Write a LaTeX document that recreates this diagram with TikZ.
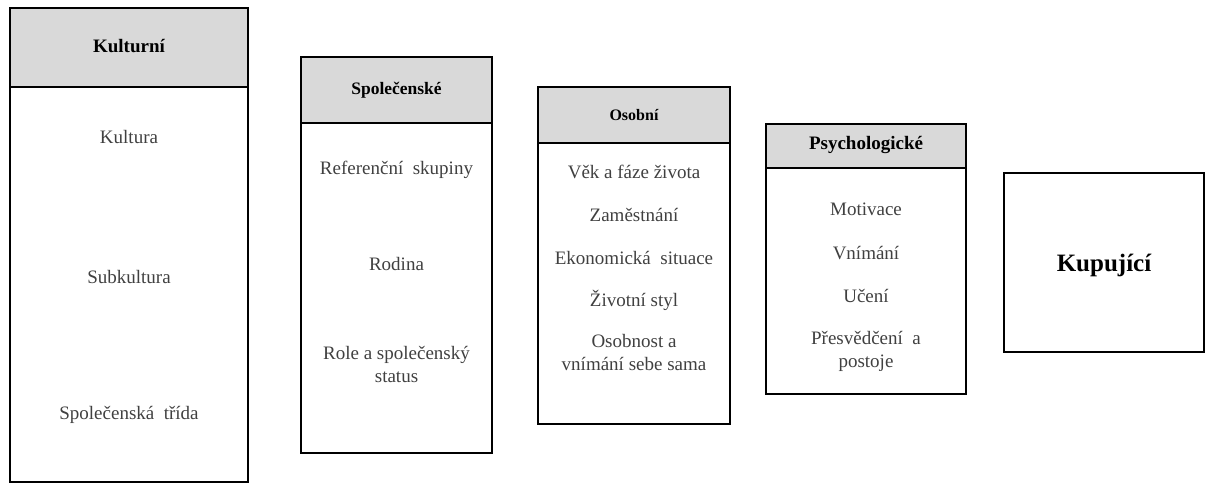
\documentclass[tikz,border=0pt]{standalone}
\usepackage{fontspec}
\setmainfont{Liberation Serif}
\definecolor{headgray}{HTML}{D9D9D9}
\definecolor{itemgray}{HTML}{404040}

\begin{document}
\begin{tikzpicture}[x=1pt, y=-1pt,
  box/.style={draw=black, line width=2.4pt},
  headbox/.style={box, fill=headgray},
  title/.style={font=\fontsize{#1}{22}\selectfont\bfseries},
  item/.style={text=itemgray, align=center, font=\fontsize{19}{23}\selectfont}]
\useasboundingbox (0,0) rectangle (1210,483);
% Kulturni
\draw[headbox] (10,8) rectangle (248,87);
\draw[box] (10,87) rectangle (248,482);
\node[title=19] (kult) at (129,46) {Kulturní};
\node[item] (kultura) at (129,137) {Kultura};
\node[item] (subkult) at (129,277) {Subkultura};
\node[item] (trida) at (129,415) {Společenská~ třída};
% Spolecenske
\draw[headbox] (301,57) rectangle (492,123);
\draw[box] (301,123) rectangle (492,453);
\node[title=17.5] (spol) at (396.5,90) {Společenské};
\node[item] (skup) at (396.5,170) {Referenční~ skupiny};
\node[item] (rodina) at (396.5,264) {Rodina};
\node[item] (role) at (396.5,364) {Role a společenský\\status};
% Osobni
\draw[headbox] (538,87) rectangle (730,143);
\draw[box] (538,143) rectangle (730,424);
\node[title=16] (osob) at (634,115) {Osobní};
\node[item] (vek) at (634,172) {Věk a fáze života};
\node[item] (zam) at (634,215) {Zaměstnání};
\node[item] (ekon) at (634,258) {Ekonomická~ situace};
\node[item] (styl) at (634,300) {Životní styl};
\node[item] (osobnost) at (634,352) {Osobnost a\\vnímání sebe sama};
% Psychologicke
\draw[headbox] (766,124) rectangle (966,168);
\draw[box] (766,168) rectangle (966,394);
\node[title=19] (psych) at (866,145) {Psychologické};
\node[item] (motiv) at (866,209) {Motivace};
\node[item] (vnim) at (866,253) {Vnímání};
\node[item] (uceni) at (866,296) {Učení};
\node[item] (presv) at (866,351) {Přesvědčení~ a\\postoje};
% Kupujici
\draw[box] (1004,173) rectangle (1204,352);
\node[font=\fontsize{25}{30}\selectfont\bfseries] (kup) at (1104,265) {Kupující};
\end{tikzpicture}
\end{document}
